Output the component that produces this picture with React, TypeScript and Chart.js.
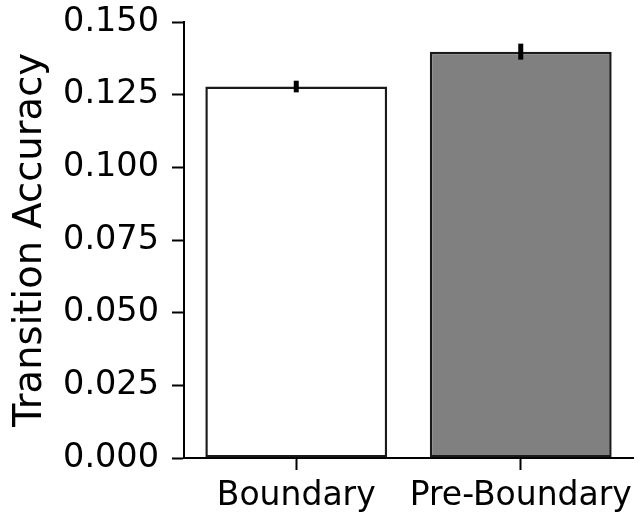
import React, { useEffect, useRef } from "react";
import { Chart, registerables } from "chart.js";

Chart.register(...registerables);

const categories = ["Boundary", "Pre-Boundary"];
const accuracy = [0.1278, 0.1398];
const errors = [0.002, 0.00275];
const barColors = ["#ffffff", "#808080"];
const yTicks = [0, 0.025, 0.05, 0.075, 0.1, 0.125, 0.15];

const errorBarPlugin = {
  id: "errorBars",
  afterDatasetsDraw(chart: any) {
    const meta = chart.getDatasetMeta(0);
    const yScale = chart.scales.y;
    const ctx = chart.ctx;
    ctx.save();
    ctx.strokeStyle = "#000000";
    ctx.lineWidth = 5;
    ctx.lineCap = "butt";
    meta.data.forEach((bar: any, i: number) => {
      const v = accuracy[i];
      const e = errors[i];
      const y1 = yScale.getPixelForValue(v + e);
      const y2 = yScale.getPixelForValue(v - e);
      ctx.beginPath();
      ctx.moveTo(bar.x, y1);
      ctx.lineTo(bar.x, y2);
      ctx.stroke();
    });
    ctx.restore();
  },
};

export default function App() {
  const canvasRef = useRef<HTMLCanvasElement | null>(null);

  useEffect(() => {
    if (!canvasRef.current) return;
    Chart.defaults.font.family = "'DejaVu Sans', sans-serif";
    const chart = new Chart(canvasRef.current, {
      type: "bar",
      data: {
        labels: categories,
        datasets: [
          {
            data: accuracy,
            backgroundColor: barColors,
            borderColor: "#1a1a1a",
            borderWidth: 2.5,
            borderSkipped: false,
            barPercentage: 0.81,
            categoryPercentage: 1,
          },
        ],
      },
      options: {
        responsive: false,
        animation: false,
        events: [],
        layout: { padding: { top: 22, right: 7, left: 0, bottom: 0 } },
        plugins: {
          legend: { display: false },
          tooltip: { enabled: false },
        },
        scales: {
          x: {
            offset: true,
            grid: {
              offset: false,
              drawOnChartArea: false,
              drawTicks: true,
              tickLength: 12,
              tickWidth: 2,
              tickColor: "#000000",
            },
            border: { display: true, color: "#000000", width: 2 },
            ticks: {
              color: "#000000",
              font: { size: 33 },
              padding: 7,
              maxRotation: 0,
              autoSkip: false,
            },
            afterFit(scale: any) {
              scale.height = 55;
              scale.paddingLeft = 0;
              scale.paddingRight = 0;
            },
          },
          y: {
            min: 0,
            max: 0.15,
            afterBuildTicks(scale: any) {
              scale.ticks = yTicks.map((v) => ({ value: v }));
            },
            grid: {
              drawOnChartArea: false,
              drawTicks: true,
              tickLength: 12,
              tickWidth: 2,
              tickColor: "#000000",
            },
            border: { display: true, color: "#000000", width: 2 },
            ticks: {
              color: "#000000",
              font: { size: 33.5 },
              padding: 13,
              callback: (v: any) => Number(v).toFixed(3),
            },
            title: {
              display: true,
              text: "Transition Accuracy",
              color: "#000000",
              font: { size: 38.5 },
              padding: { top: 8, bottom: 0 },
            },
            afterFit(scale: any) {
              scale.width = 184;
              scale.paddingTop = 0;
              scale.paddingBottom = 0;
            },
          },
        },
      },
      plugins: [errorBarPlugin],
    });
    return () => chart.destroy();
  }, []);

  return (
    <div style={{ position: "fixed", left: 0, top: 0, width: 640, height: 513, background: "#ffffff" }}>
      <canvas ref={canvasRef} width={640} height={513} style={{ display: "block" }} />
    </div>
  );
}
